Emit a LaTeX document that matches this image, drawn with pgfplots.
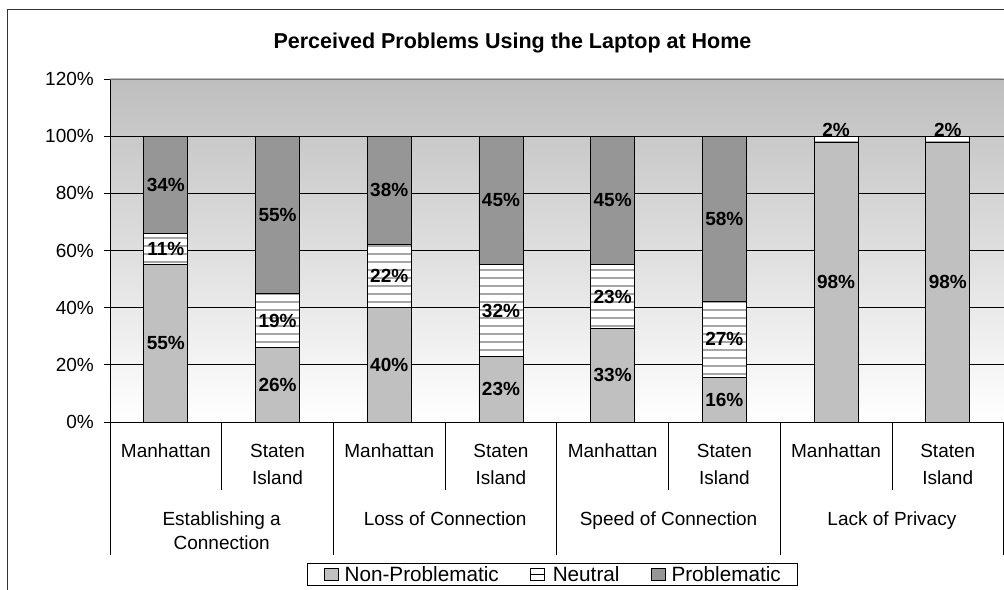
\documentclass[border=0pt]{standalone}
\usepackage{fontspec}
\setmainfont{Liberation Sans}
\usepackage{pgfplots}
\pgfplotsset{compat=1.18}
\usetikzlibrary{patterns.meta}
\definecolor{nonp}{HTML}{C0C0C0}
\definecolor{prob}{HTML}{969696}
\definecolor{bgtop}{HTML}{BEBEBE}
\newcommand{\lblfont}{\fontsize{19bp}{27bp}\selectfont}
\newcommand{\legext}[2]{\pgfpathmoveto{\pgfpoint{#1}{0bp}}\pgfpathlineto{\pgfpoint{#2}{0bp}}\pgfusepath{}}
\begin{document}
\begin{tikzpicture}[x=1bp,y=1bp]
% outer frame
\draw[black!80, line width=0.8bp] (7,-20) -- (7,580.5) -- (1020,580.5);
\begin{axis}[
  at={(110bp,168bp)}, anchor=south west,
  width=893.6bp, height=343bp, scale only axis,
  xmin=-0.5, xmax=7.5, ymin=0, ymax=120,
  ybar stacked, bar width=44bp,
  axis x line*=bottom, axis y line*=left,
  axis line style={black, line width=0.8bp, -},
  axis background/.style={top color=bgtop, bottom color=white},
  ytick={0,20,...,120},
  yticklabels={0\%,20\%,40\%,60\%,80\%,100\%,120\%},
  ymajorgrids, grid style={black, line width=0.7bp},
  ytick style={black, line width=0.8bp},
  tick align=outside, major tick length=6bp,
  yticklabel style={font=\lblfont, inner sep=0pt, xshift=-10bp},
  xtick={0,...,7},
  xticklabels={Manhattan,{Staten\\Island},Manhattan,{Staten\\Island},Manhattan,{Staten\\Island},Manhattan,{Staten\\Island}},
  xticklabel style={font=\lblfont, align=center, anchor=north, inner sep=0pt, yshift=-16bp},
  x tick style={draw=none},
  legend columns=3,
  legend style={at={(0.4952,-0.4111)}, anchor=north, draw=black, line width=0.8bp,
    font=\fontsize{20.7bp}{24bp}\selectfont, inner xsep=17bp, inner ysep=1bp,
    nodes={inner xsep=0pt},
    /tikz/every even column/.style={column sep=0pt},
    /tikz/every odd column/.style={column sep=0pt}},
  legend cell align=left,
]
\addplot[fill=nonp, draw=black, line width=0.8bp,
  legend image code/.code={\legext{0bp}{20bp}\draw[black, line width=0.8bp, fill=nonp] (0bp,-6bp) rectangle (14bp,6bp);}]
  coordinates {(0,55) (1,26) (2,40) (3,23) (4,32.6) (5,15.6) (6,97.8) (7,97.8)};
\addlegendentry{Non-Problematic}
\addplot[preaction={fill=white}, pattern={Lines[angle=0,distance=8bp,line width=2.5bp]}, pattern color=black!35, draw=black, line width=0.8bp,
  legend image code/.code={\legext{-32bp}{22bp}\draw[black, line width=0.8bp, fill=white] (0bp,-6bp) rectangle (14bp,6bp); \draw[black, line width=0.8bp] (0bp,0bp) -- (14bp,0bp);}]
  coordinates {(0,11) (1,19) (2,22) (3,32) (4,22.6) (5,26.7) (6,2.2) (7,2.2)};
\addlegendentry{Neutral}
\addplot[fill=prob, draw=black, line width=0.8bp,
  legend image code/.code={\legext{-32bp}{20bp}\draw[black, line width=0.8bp, fill=prob] (0bp,-6bp) rectangle (14bp,6bp);}]
  coordinates {(0,34) (1,55) (2,38) (3,45) (4,44.8) (5,57.7) (6,0) (7,0)};
\addlegendentry{Problematic}
\end{axis}
\begin{axis}[
  at={(110bp,168bp)}, anchor=south west,
  width=893.6bp, height=343bp, scale only axis,
  xmin=-0.5, xmax=7.5, ymin=0, ymax=120,
  hide axis, clip=false,
  /pgf/number format/assume math mode=true,
]
\addplot[only marks, mark=none, point meta=explicit,
  nodes near coords={\pgfmathprintnumber[fixed,precision=0,assume math mode=true]{\pgfplotspointmeta}\%},
  nodes near coords align={center},
  every node near coord/.append style={font=\bfseries\fontsize{19bp}{22bp}\selectfont, inner sep=0pt, anchor=center}]
  table[meta=v] {
x y v
0 27.5 55
0 60.5 11
0 83 34
1 13 26
1 35.5 19
1 72.5 55
2 20 40
2 51 22
2 81 38
3 11.5 23
3 39 32
3 77.5 45
4 16.3 33
4 43.9 23
4 77.6 45
5 7.8 16
5 28.95 27
5 71.15 58
6 48.9 98
6 102.1 2
7 48.9 98
7 102.1 2
};
\end{axis}
% top border of plot area
\draw[black!55, line width=0.8bp] (110,511) -- (1003.6,511);
% category separators
\foreach \k in {1,3,5,7} {\draw[black, line width=0.8bp] (110+111.7*\k,168) -- (110+111.7*\k,100);}
\foreach \k in {0,1,2,3,4} {\draw[black, line width=0.8bp] (110+223.4*\k,168) -- (110+223.4*\k,35);}
% group labels
\node[font=\lblfont, anchor=base] at (221.7,64.2) {Establishing a};
\node[font=\lblfont, anchor=base] at (221.7,40.2) {Connection};
\node[font=\lblfont, anchor=base] at (445.1,64.2) {Loss of Connection};
\node[font=\lblfont, anchor=base] at (668.5,64.2) {Speed of Connection};
\node[font=\lblfont, anchor=base] at (891.9,64.2) {Lack of Privacy};
% title
\node[font=\bfseries\fontsize{21.5bp}{25bp}\selectfont, anchor=base] at (512.5,541) {Perceived Problems Using the Laptop at Home};
\pgfresetboundingbox
\useasboundingbox (0,0) rectangle (1004,590);
\end{tikzpicture}
\end{document}
